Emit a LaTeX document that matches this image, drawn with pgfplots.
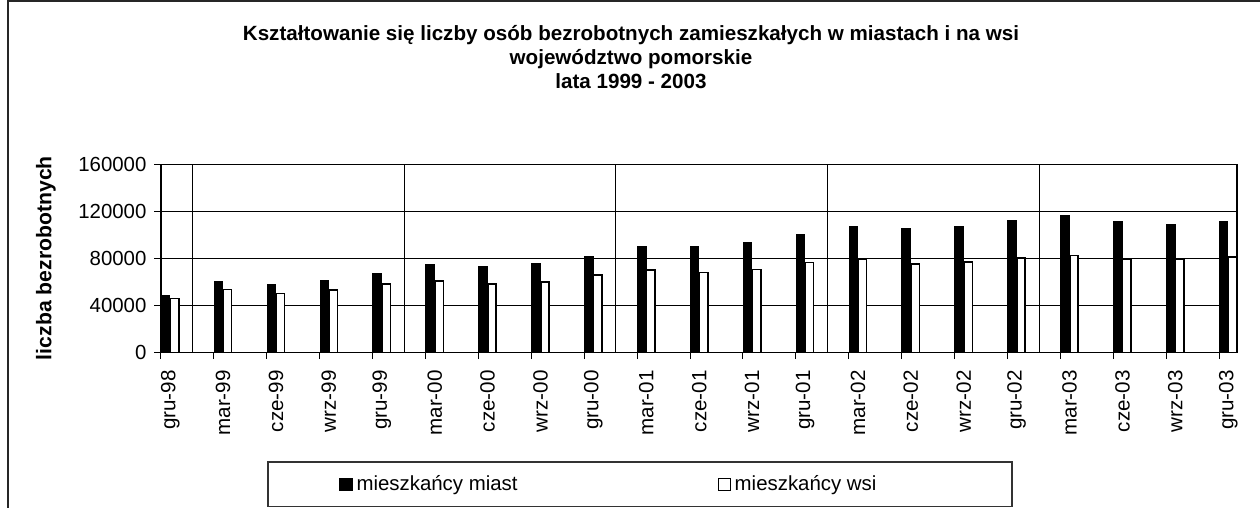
\documentclass[border=0pt]{standalone}
\usepackage{fontspec}
\setmainfont{Liberation Sans}
\usepackage{pgfplots}
\usepackage{pgfplotstable}
\pgfplotsset{compat=1.18}

% liczba bezrobotnych: miasta / wies
\pgfplotstableread{
x  miasta  wsi
0  48400   46200
1  60600   53800
2  58300   50400
3  61700   53200
4  67400   58300
5  74700   61200
6  73000   58300
7  75900   60000
8  82100   66300
9  90000   70200
10 90000   68200
11 93400   70800
12 100500  76700
13 107300  79600
14 105600  75600
15 107300  77000
16 112400  80700
17 116400  82700
18 111300  79600
19 108700  79600
20 111300  81500
}\bezrobotni

\begin{document}
\begin{tikzpicture}
\begin{axis}[
    at={(0pt,0pt)}, anchor=south west,
    scale only axis,
    width=538pt, height=94pt,
    xmin=0, xmax=20.34,
    ymin=0, ymax=160000,
    ybar, bar width=4.2pt,
    axis line style={black, line width=0.6pt},
    tick align=outside,
    major tick length=3.25pt,
    tick style={black, line width=0.5pt},
    xtick={0,...,20},
    xticklabels={gru-98,mar-99,cze-99,wrz-99,gru-99,mar-00,cze-00,wrz-00,gru-00,
        mar-01,cze-01,wrz-01,gru-01,mar-02,cze-02,wrz-02,gru-02,mar-03,cze-03,wrz-03,gru-03},
    xticklabel style={xshift=4.6pt, yshift=-2pt, rotate=90, anchor=east,
        font=\fontsize{10.3}{12}\selectfont},
    xtick pos=bottom, ytick pos=left,
    ytick={0,40000,80000,120000,160000},
    scaled y ticks=false,
    /pgf/number format/fixed,
    /pgf/number format/precision=0,
    /pgf/number format/assume math mode=true,
    /pgf/number format/1000 sep={},
    yticklabel style={font=\fontsize{10.2}{12}\selectfont, xshift=-0.5pt},
    ymajorgrids,
    major grid style={black, line width=0.5pt},
    extra x ticks={0.6,4.6,8.6,12.6,16.6},
    extra x tick style={grid=major, major tick length=0pt, xticklabel={}},
    ylabel={liczba bezrobotnych},
    every axis y label/.style={at={(axis description cs:-0.1069,0.503)},
        rotate=90, anchor=center, font=\bfseries\fontsize{10.6}{12}\selectfont},
    legend columns=2,
    legend image code/.code={\draw[#1, line width=0.6pt] (0pt,-3pt) rectangle (6pt,3pt);},
    legend style={at={(axis description cs:0.1654,-0.70)}, anchor=west,
        draw=none, fill=none, inner sep=0pt,
        font=\fontsize{10.2}{12}\selectfont,
        /tikz/every even column/.append style={column sep=98pt}},
]
\addplot[fill=black, draw=black, line width=0.6pt, bar shift=2.3pt]
    table[x=x, y=miasta] {\bezrobotni};
\addlegendentry{mieszkańcy miast}
\addplot[fill=white, draw=black, line width=0.8pt, bar shift=6.8pt]
    table[x=x, y=wsi] {\bezrobotni};
\addlegendentry{mieszkańcy wsi}
\end{axis}

% tytul
\begin{scope}[every node/.style={anchor=base, font=\bfseries\fontsize{10.3}{12}\selectfont}]
\node at (235pt,156pt) {Kształtowanie się liczby osób bezrobotnych zamieszkałych w miastach i na wsi};
\node at (235pt,144.1pt) {województwo pomorskie};
\node at (235pt,132.2pt) {lata 1999 - 2003};
\end{scope}

% ramka wykresu i legendy
\draw[black!85, line width=1pt] (-76.5pt,-90pt) -- (-76.5pt,175.6pt) -- (560pt,175.6pt);
\draw[black!80, line width=0.6pt] (53.5pt,-54.65pt) rectangle (425.5pt,-77.1pt);

\pgfresetboundingbox
\useasboundingbox (-80.5pt,-77.65pt) rectangle (549.5pt,176.35pt);
\end{tikzpicture}
\end{document}
